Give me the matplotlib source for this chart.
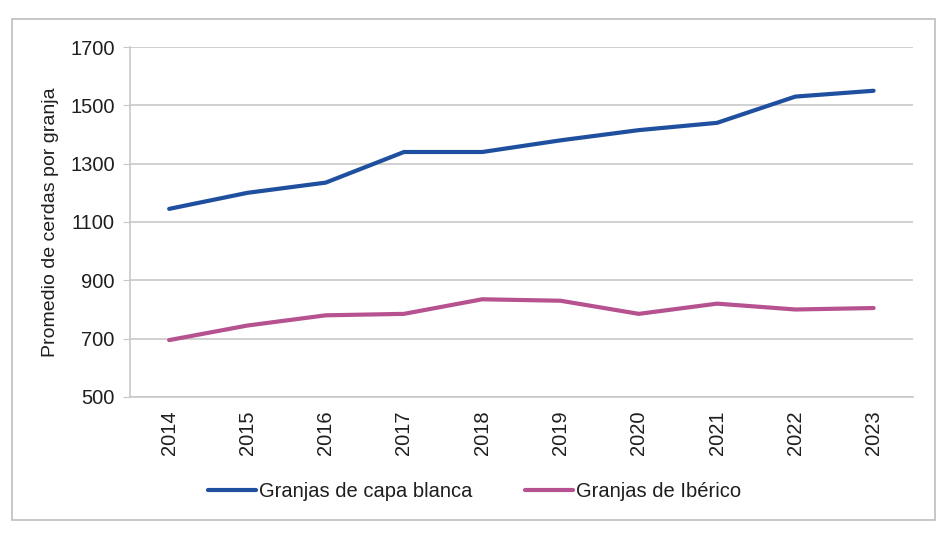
import matplotlib.pyplot as plt
from matplotlib.patches import Rectangle

# ===== Data =====
years = ["2014", "2015", "2016", "2017", "2018", "2019", "2020", "2021", "2022", "2023"]
capa_blanca = [1145, 1200, 1235, 1340, 1340, 1380, 1415, 1440, 1530, 1550]
iberico = [695, 745, 780, 785, 835, 830, 785, 820, 800, 805]
yticks = [500, 700, 900, 1100, 1300, 1500, 1700]

plt.rcParams["font.family"] = ["Liberation Sans", "DejaVu Sans"]
TXT = "#1e1e1e"
GRID = "#c8c8c8"

fig = plt.figure(figsize=(9.4, 5.33), dpi=100)
ax = fig.add_axes([0.1383, 0.2552, 0.8327, 0.6566])

# chart border
fig.patches.append(Rectangle((0.013, 0.025), 0.982, 0.94, transform=fig.transFigure,
                             fill=False, edgecolor="#bdbdbd", linewidth=1.2))

x = range(len(years))
ax.plot(x, capa_blanca, color="#1f4f9f", linewidth=3.0, solid_capstyle="round",
        label="Granjas de capa blanca")
ax.plot(x, iberico, color="#b5528f", linewidth=3.0, solid_capstyle="round",
        label="Granjas de Ibérico")

ax.set_xlim(-0.5, len(years) - 0.5)
ax.set_ylim(500, 1700)
ax.set_yticks(yticks)
ax.set_xticks(list(x))
ax.set_xticklabels(years, rotation=90)
ax.yaxis.grid(True, color=GRID, linewidth=1.2)
ax.set_axisbelow(True)

for s in ["top", "right"]:
    ax.spines[s].set_visible(False)
ax.spines["left"].set_color(GRID)
ax.spines["bottom"].set_color(GRID)
ax.spines["left"].set_linewidth(1.2)
ax.spines["bottom"].set_linewidth(1.2)
ax.tick_params(axis="y", length=5, color=GRID, labelsize=14.5, labelcolor=TXT, pad=6)
ax.tick_params(axis="x", length=0, labelsize=14.5, labelcolor=TXT, pad=10)

ax.set_ylabel("Promedio de cerdas por granja", fontsize=14, color=TXT, labelpad=8)

ax.legend(loc="center", bbox_to_anchor=(0.44, -0.27), ncol=2, frameon=False,
          fontsize=14.5, handlelength=2.4, handletextpad=0.15, columnspacing=2.6,
          labelcolor=TXT)

plt.savefig("out.png", dpi=100)
